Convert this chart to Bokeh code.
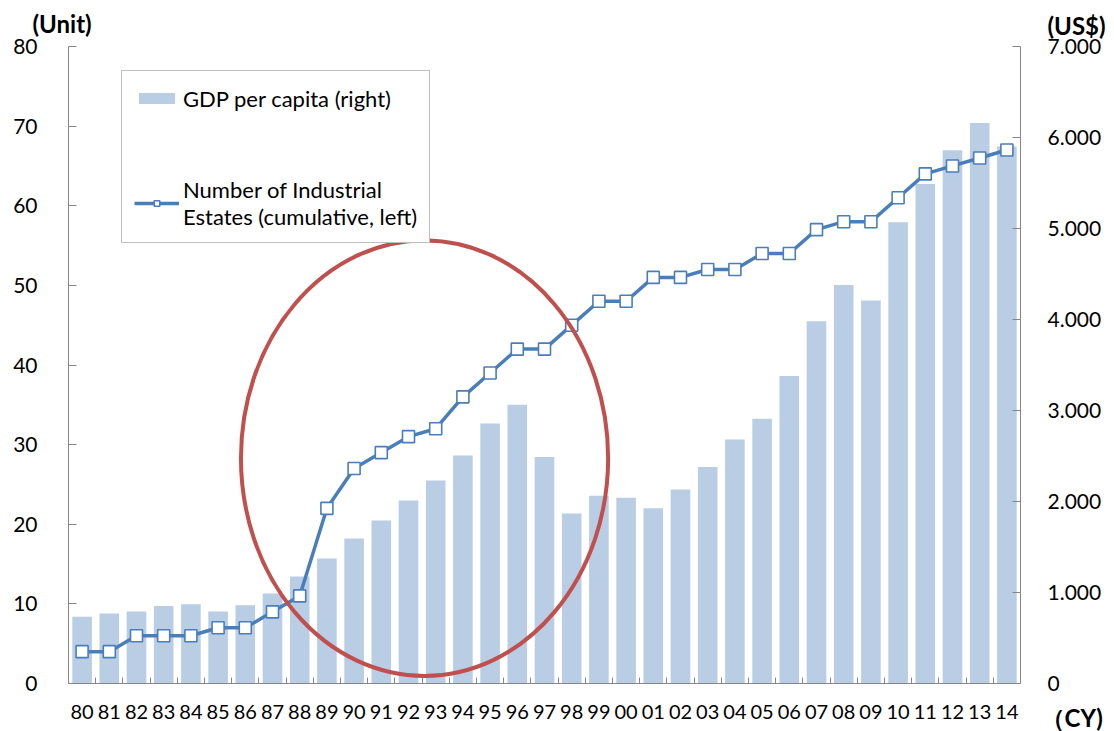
from bokeh.plotting import figure
from bokeh.models import Range1d, LinearAxis, FixedTicker, Legend, LegendItem, Label
from bokeh.embed import file_html
from bokeh.resources import INLINE

# Calendar years (two-digit labels)
years = ["80", "81", "82", "83", "84", "85", "86", "87", "88", "89",
         "90", "91", "92", "93", "94", "95", "96", "97", "98", "99",
         "00", "01", "02", "03", "04", "05", "06", "07", "08", "09",
         "10", "11", "12", "13", "14"]

# Number of industrial estates, cumulative (left axis, units)
estates = [4, 4, 6, 6, 6, 7, 7, 9, 11, 22,
           27, 29, 31, 32, 36, 39, 42, 42, 45, 48,
           48, 51, 51, 52, 52, 54, 54, 57, 58, 58,
           61, 64, 65, 66, 67]

# GDP per capita (right axis, US$)
gdp = [733, 769, 791, 853, 872, 791, 861, 989, 1176, 1373,
       1593, 1790, 2010, 2231, 2505, 2857, 3062, 2490, 1868, 2062,
       2040, 1927, 2132, 2380, 2680, 2910, 3380, 3980, 4380, 4210,
       5070, 5490, 5860, 6160, 5900]

left_ticks = [0, 10, 20, 30, 40, 50, 60, 70, 80]
right_ticks = [0, 1000, 2000, 3000, 4000, 5000, 6000, 7000]
right_labels = ["0", "1.000", "2.000", "3.000", "4.000", "5.000", "6.000", "7.000"]

FONT = "Lato"
AXIS_COLOR = "#868686"
BAR_COLOR = "#B9CDE5"
LINE_COLOR = "#4A7EBB"
HIGHLIGHT_COLOR = "#C0504D"

W, H = 1114, 731
# Plot area inside the canvas (pixels): left, right, top, bottom
PL, PR, PT, PB = 68, 1020, 46, 683
N = len(years)
LEFT_MAX, RIGHT_MAX = 80, 7000

# Ranges span the whole canvas so captions in the margins are drawn too;
# the axes are pinned to the plot-area edges with fixed_location.
px_x = (PR - PL) / N
px_l = (PB - PT) / LEFT_MAX
px_r = (PB - PT) / RIGHT_MAX
x_range = Range1d(-PL / px_x, (W - PL) / px_x)
y_range = Range1d(-(H - PB) / px_l, PB / px_l)
gdp_range = Range1d(-(H - PB) / px_r, PB / px_r)

xs = [i + 0.5 for i in range(N)]

p = figure(width=W, height=H, x_range=x_range, y_range=y_range,
           output_backend="svg", toolbar_location=None,
           min_border=0, min_border_left=0, min_border_right=0,
           min_border_top=0, min_border_bottom=0,
           background_fill_color="white", border_fill_color="white")
p.extra_y_ranges = {"gdp": gdp_range}
p.xgrid.visible = False
p.ygrid.visible = False
p.outline_line_color = None

bars = p.vbar(x=xs, top=gdp, width=0.72, y_range_name="gdp",
              fill_color=BAR_COLOR, line_color=None)
line = p.line(xs, estates, line_color=LINE_COLOR, line_width=3.5)
pts = p.scatter(xs, estates, marker="square", size=12, fill_color="white",
                line_color=LINE_COLOR, line_width=1.6)

# Highlighted period around the late-80s / 90s surge
p.ellipse(x=[13.09], y=[28.3], width=13.5, height=54.7, fill_color=None,
          line_color=HIGHLIGHT_COLOR, line_width=4)

# Bottom axis: labels at category centres, tick marks between categories
xa = p.xaxis[0]
xa.fixed_location = 0
xa.bounds = (0, N)
xa.ticker = FixedTicker(ticks=xs, minor_ticks=list(range(N + 1)))
xa.major_label_overrides = {x: y for x, y in zip(xs, years)}
xa.major_tick_in = 0
xa.major_tick_out = 0
xa.minor_tick_in = 6
xa.minor_tick_out = 0
xa.minor_tick_line_color = AXIS_COLOR
xa.axis_line_color = AXIS_COLOR
xa.major_label_standoff = 21
xa.major_label_text_font = FONT
xa.major_label_text_font_size = "20px"
xa.major_label_text_color = "black"

ya = p.yaxis[0]
ya.fixed_location = 0
ya.bounds = (0, LEFT_MAX)
ya.ticker = FixedTicker(ticks=left_ticks, minor_ticks=[])
ya.major_tick_in = 8
ya.major_tick_out = 0
ya.major_tick_line_color = AXIS_COLOR
ya.axis_line_color = AXIS_COLOR
ya.major_label_standoff = 31
ya.major_label_text_font = FONT
ya.major_label_text_font_size = "21px"
ya.major_label_text_color = "black"

ra = LinearAxis(y_range_name="gdp", fixed_location=N, bounds=(0, RIGHT_MAX))
ra.ticker = FixedTicker(ticks=right_ticks, minor_ticks=[])
ra.major_label_overrides = {t: s for t, s in zip(right_ticks, right_labels)}
ra.major_tick_in = 8
ra.major_tick_out = 0
ra.minor_tick_line_color = None
ra.major_tick_line_color = AXIS_COLOR
ra.axis_line_color = AXIS_COLOR
ra.major_label_standoff = 27
ra.major_label_text_font = FONT
ra.major_label_text_font_size = "21px"
ra.major_label_text_color = "black"
p.add_layout(ra, "right")

# Axis unit captions (pixel positions from the canvas' bottom-left corner)
for txt, x, y in [("(Unit)", 32, H - 23), ("(US$)", 1047, H - 25), ("（CY)", 1040, H - 717)]:
    p.add_layout(Label(x=x, y=y, x_units="screen", y_units="screen", text=txt,
                       text_font=FONT, text_font_style="bold",
                       text_font_size="24px", text_baseline="middle",
                       text_align="left", text_color="black"))

legend = Legend(items=[
    LegendItem(label="GDP per capita (right)", renderers=[bars]),
    LegendItem(label="Number of Industrial\nEstates (cumulative, left)", renderers=[line, pts]),
], location=(121, H - 243))
legend.border_line_color = "#808080"
legend.border_line_width = 1
legend.background_fill_color = "white"
legend.background_fill_alpha = 1
legend.label_text_font = FONT
legend.label_text_font_size = "22px"
legend.label_text_color = "black"
legend.glyph_width = 45
legend.glyph_height = 14
legend.label_height = 30
legend.label_standoff = 4
legend.spacing = 63
legend.padding = 12
legend.margin = 0
p.add_layout(legend, "center")

open("out.html", "w").write(file_html(p, INLINE))
